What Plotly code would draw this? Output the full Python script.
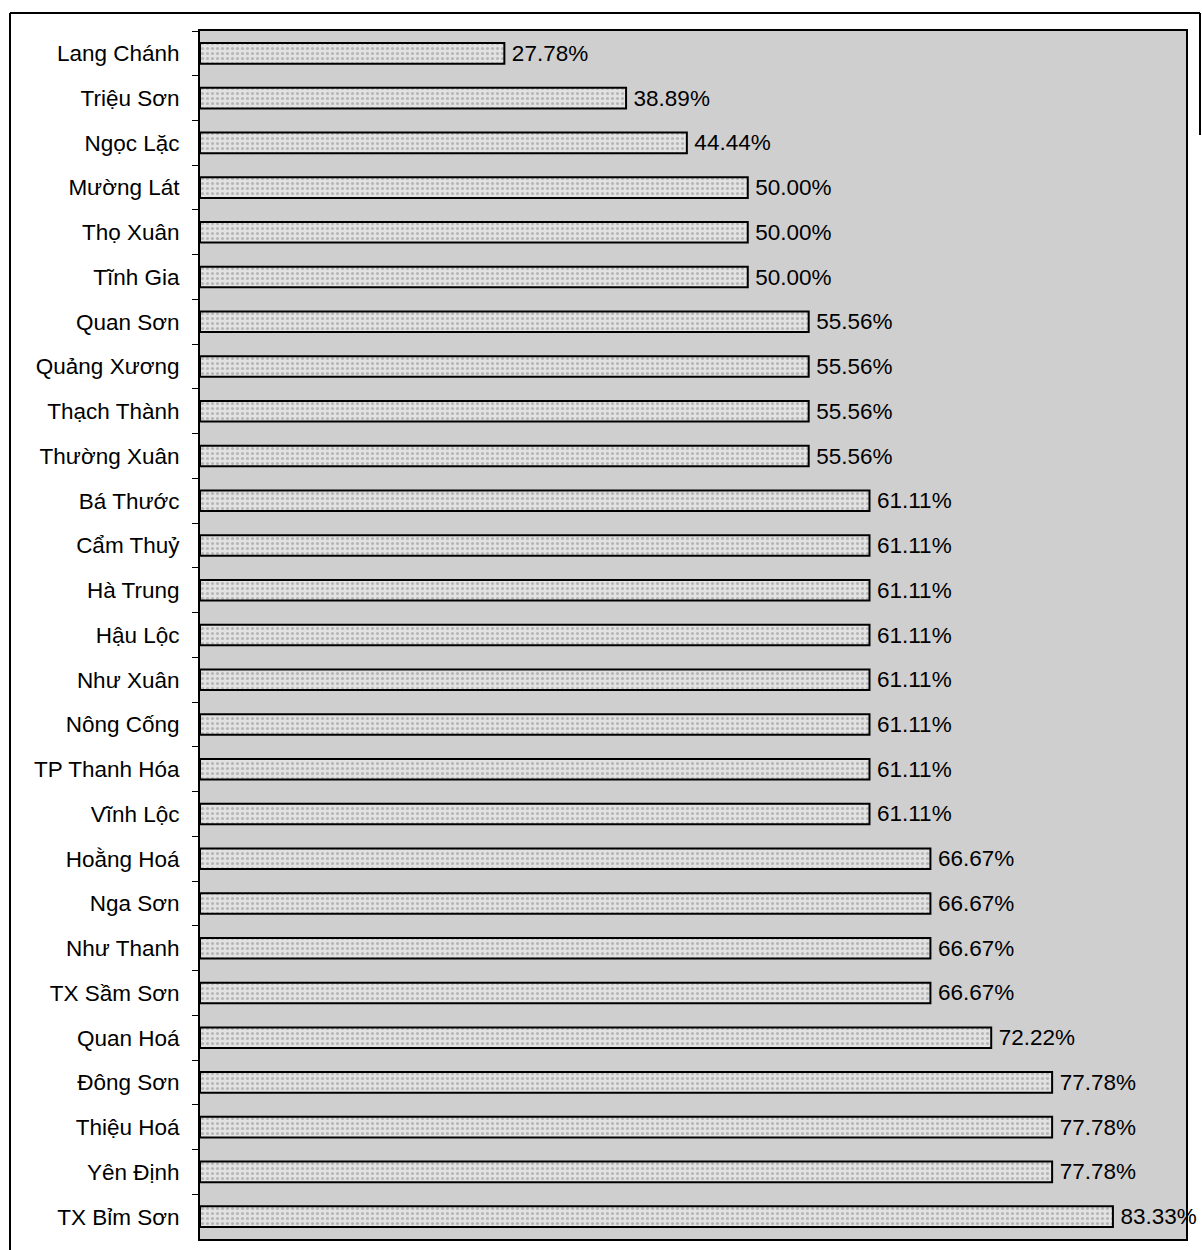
import plotly.graph_objects as go

districts = ["Lang Chánh", "Triệu Sơn", "Ngọc Lặc", "Mường Lát", "Thọ Xuân", "Tĩnh Gia",
             "Quan Sơn", "Quảng Xương", "Thạch Thành", "Thường Xuân", "Bá Thước", "Cẩm Thuỷ",
             "Hà Trung", "Hậu Lộc", "Như Xuân", "Nông Cống", "TP Thanh Hóa", "Vĩnh Lộc",
             "Hoằng Hoá", "Nga Sơn", "Như Thanh", "TX Sầm Sơn", "Quan Hoá", "Đông Sơn",
             "Thiệu Hoá", "Yên Định", "TX Bỉm Sơn"]
rates = [0.2778, 0.3889, 0.4444, 0.5000, 0.5000, 0.5000,
         0.5556, 0.5556, 0.5556, 0.5556, 0.6111, 0.6111,
         0.6111, 0.6111, 0.6111, 0.6111, 0.6111, 0.6111,
         0.6667, 0.6667, 0.6667, 0.6667, 0.7222, 0.7778,
         0.7778, 0.7778, 0.8333]

W, H = 1202, 1250
L, R, T, B = 200, 1186, 31, 1239
FONT = "Liberation Sans, Arial, sans-serif"

fig = go.Figure(go.Bar(
    x=rates, y=districts, orientation="h",
    marker=dict(color="#dedede", line=dict(color="black", width=2),
                pattern=dict(shape=".", fgcolor="#8a8a8a", bgcolor="#e2e2e2", size=5, solidity=0.3)),
    text=["\u2009" + f"{v:.2%}" for v in rates], textposition="outside", constraintext="none",
    textfont=dict(family=FONT, size=22.5, color="black"),
    cliponaxis=False, width=0.46,
))

def px(x):
    return (x - L) / (R - L)

def py(y):
    return (B - y) / (B - T)

frame = dict(color="black", width=2)
shapes = [
    dict(type="line", xref="paper", yref="paper", x0=px(10), x1=px(10), y0=py(13), y1=py(1252), line=frame),
    dict(type="line", xref="paper", yref="paper", x0=px(10), x1=px(1200), y0=py(13), y1=py(13), line=frame),
    dict(type="line", xref="paper", yref="paper", x0=px(1200), x1=px(1200), y0=py(13), y1=py(135), line=frame),
]

fig.update_layout(
    width=W, height=H,
    margin=dict(l=L, r=W - R, t=T, b=H - B),
    paper_bgcolor="white", plot_bgcolor="#cfcfcf",
    showlegend=False, shapes=shapes,
    font=dict(family=FONT, size=22.5, color="black"),
    xaxis=dict(range=[0, 0.9], showgrid=False, zeroline=False, showticklabels=False, ticks="",
               showline=True, linecolor="black", linewidth=2, mirror=True),
    yaxis=dict(autorange="reversed", showgrid=False, ticks="outside", ticklen=6, tickwidth=1,
               tickcolor="black", tickson="boundaries", ticklabelstandoff=14,
               showline=True, linecolor="black", linewidth=2, mirror=True,
               tickfont=dict(family=FONT, size=22.5, color="black")),
)

fig.write_html("out.html", config={"displayModeBar": False},
               post_script="document.body.style.margin='0';document.body.style.overflow='hidden';")
